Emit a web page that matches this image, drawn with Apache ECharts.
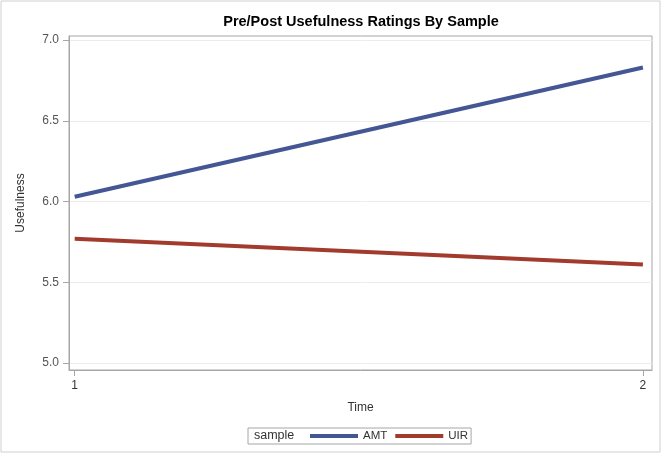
<!DOCTYPE html>
<html>
<head>
<meta charset="utf-8">
<script src="https://cdn.jsdelivr.net/npm/echarts@6/dist/echarts.min.js"></script>
<style>
  html, body { margin: 0; padding: 0; background: #fff; }
  #chart { width: 664px; height: 456px; }
</style>
</head>
<body>
<div id="chart"></div>
<script>
// time points and ratings per sample
const timePoints = [1, 2]
const amtValues = [6.03, 6.83]
const uirValues = [5.77, 5.61]
const yTicks = [5.0, 5.5, 6.0, 6.5, 7.0]

const FONT = '"Liberation Sans", Arial, sans-serif'
const frameColor = '#a6a6a6'

function toPoints(values) {
  return timePoints.map((t, i) => [t, values[i]])
}

const chart = echarts.init(document.getElementById('chart'))

chart.setOption({
  animation: false,
  textStyle: { fontFamily: FONT },
  title: {
    text: 'Pre/Post Usefulness Ratings By Sample',
    left: 356,
    textAlign: 'center',
    top: 9,
    textStyle: { fontSize: 14.5, fontWeight: 'bold', color: '#000', fontFamily: FONT },
  },
  grid: {
    left: 69,
    right: 12,
    top: 36,
    bottom: 86,
    show: true,
    borderColor: frameColor,
    borderWidth: 1,
  },
  legend: {
    data: ['AMT', 'UIR'],
    left: 248,
    top: 428,
    itemWidth: 48,
    itemHeight: 4,
    itemGap: 8,
    padding: [2, 3, 2, 62],
    borderColor: '#a6a6a6',
    borderWidth: 1,
    icon: 'rect',
    textStyle: { fontSize: 11.5, color: '#333' },
  },
  xAxis: {
    type: 'value',
    min: 0.99,
    max: 2.016,
    name: 'Time',
    nameLocation: 'middle',
    nameGap: 32,
    nameTextStyle: { fontSize: 12, color: '#333' },
    axisLine: { show: true, lineStyle: { color: frameColor } },
    axisTick: { show: true, customValues: timePoints, length: 6, lineStyle: { color: frameColor } },
    axisLabel: { customValues: timePoints, fontSize: 12, color: '#333', margin: 10 },
    splitLine: { show: false },
  },
  yAxis: {
    type: 'value',
    min: 4.957,
    max: 7.025,
    name: 'Usefulness',
    nameLocation: 'middle',
    nameGap: 42,
    nameTextStyle: { fontSize: 12, color: '#333' },
    axisLine: { show: true, lineStyle: { color: frameColor } },
    axisTick: { show: true, customValues: yTicks, length: 6, lineStyle: { color: frameColor } },
    axisLabel: {
      customValues: yTicks,
      fontSize: 12,
      color: '#555',
      margin: 10,
      formatter: (v) => v.toFixed(1),
    },
    splitLine: { show: true, lineStyle: { color: '#ececec' } },
  },
  graphic: [
    {
      type: 'rect',
      shape: { x: 1, y: 1, width: 659, height: 451 },
      style: { fill: 'none', stroke: '#cfcfcf', lineWidth: 1 },
      silent: true,
    },
    {
      type: 'text',
      left: 254,
      top: 429,
      style: { text: 'sample', fontSize: 12.5, fill: '#333', fontFamily: FONT },
    },
  ],
  series: [
    {
      name: 'AMT',
      type: 'line',
      data: toPoints(amtValues),
      symbol: 'none',
      lineStyle: { color: '#445694', width: 4 },
      itemStyle: { color: '#445694' },
    },
    {
      name: 'UIR',
      type: 'line',
      data: toPoints(uirValues),
      symbol: 'none',
      lineStyle: { color: '#a23a2e', width: 4 },
      itemStyle: { color: '#a23a2e' },
    },
  ],
})
</script>
</body>
</html>
